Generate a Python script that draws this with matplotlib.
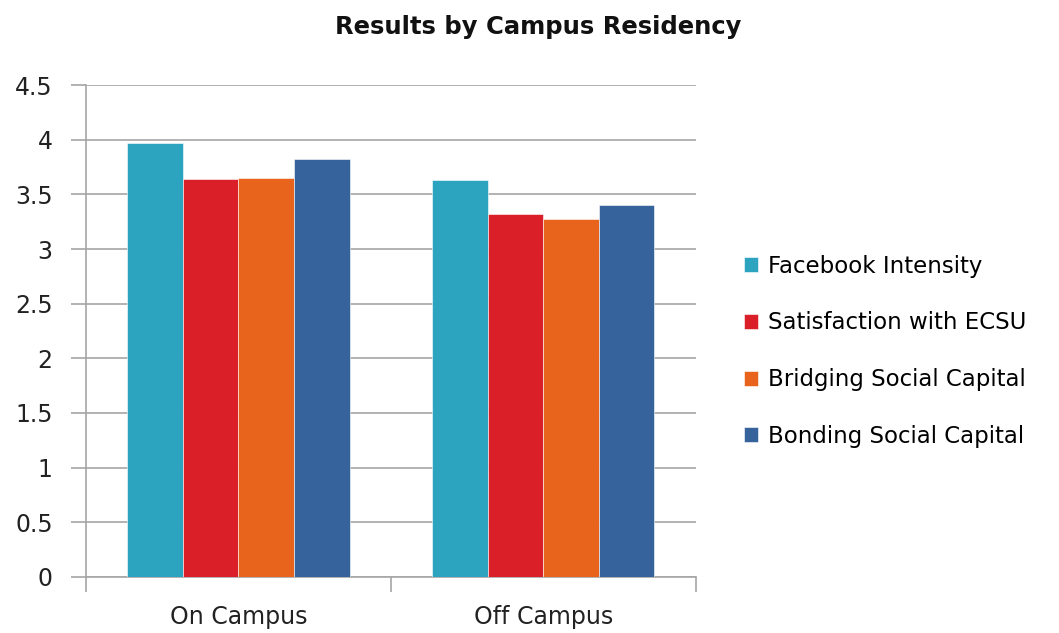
import matplotlib
matplotlib.use("Agg")
import matplotlib.pyplot as plt
import numpy as np

categories = ["On Campus", "Off Campus"]
series_names = ["Facebook Intensity", "Satisfaction with ECSU",
                "Bridging Social Capital", "Bonding Social Capital"]
facebook = [3.97, 3.63]
satisfaction = [3.64, 3.32]
bridging = [3.65, 3.27]
bonding = [3.82, 3.40]
yticks = [0, 0.5, 1, 1.5, 2, 2.5, 3, 3.5, 4, 4.5]
ytick_labels = ["0", "0.5", "1", "1.5", "2", "2.5", "3", "3.5", "4", "4.5"]

colors = ["#2CA3BF", "#DA1F28", "#E8641C", "#37639C"]

plt.rcParams['font.family'] = ['DejaVu Sans']

fig = plt.figure(figsize=(10.59, 6.33), dpi=100)
ax = fig.add_axes([0.0812, 0.0885, 0.576, 0.7772])

values = [facebook, satisfaction, bridging, bonding]
x = np.arange(len(categories))
bw = 0.182
for i, (vals, name, c) in enumerate(zip(values, series_names, colors)):
    ax.bar(x + (i - 1.5) * bw, vals, width=bw, color=c, label=name,
           edgecolor="white", linewidth=0.4, zorder=3)

ax.set_xlim(-0.5, 1.5)
ax.set_ylim(0, 4.5)
ax.set_yticks(yticks)
ax.set_yticklabels(ytick_labels, fontsize=17, color="#222222")
ax.yaxis.grid(True, color="#A6A6A6", linewidth=1.2, zorder=0)
ax.set_axisbelow(True)

ax.set_xticks(x)
ax.set_xticklabels(categories, fontsize=17, color="#222222")
ax.tick_params(axis='x', length=0, pad=20)
ax.set_xticks([-0.5, 0.5, 1.5], minor=True)
ax.tick_params(axis='x', which='minor', length=11, color="#A6A6A6", width=1.2)
ax.tick_params(axis='y', length=11, color="#A6A6A6", width=1.2, pad=13)

for s in ["top", "right"]:
    ax.spines[s].set_visible(False)
for s in ["left", "bottom"]:
    ax.spines[s].set_color("#A6A6A6")
    ax.spines[s].set_linewidth(1.2)

fig.text(0.508, 0.958, "Results by Campus Residency", ha="center", va="center",
         fontsize=17.5, fontweight="bold", color="#111111")

leg = ax.legend(loc="center left", bbox_to_anchor=(0.683, 0.445),
                bbox_transform=fig.transFigure, frameon=False,
                fontsize=16.5, handlelength=0.62, handleheight=0.62,
                handletextpad=0.45, labelspacing=1.47)

fig.savefig("out.png", dpi=100)
